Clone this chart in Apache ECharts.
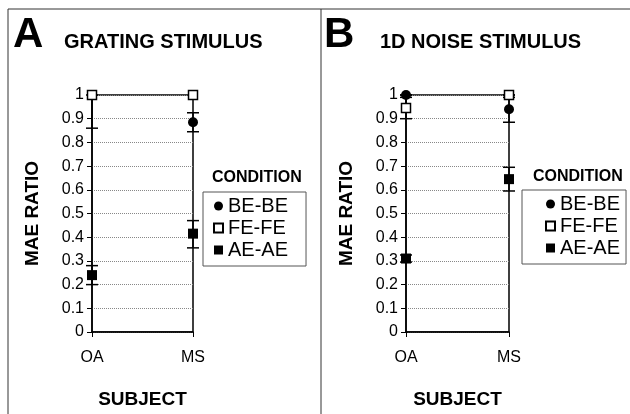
<!DOCTYPE html>
<html>
<head>
<meta charset="utf-8">
<script src="https://cdn.jsdelivr.net/npm/echarts@6/dist/echarts.min.js"></script>
<style>
  html, body { margin: 0; padding: 0; background: #fff; }
  #chart { width: 630px; height: 414px; }
</style>
</head>
<body>
<div id="chart"></div>
<script>
const subjects = ['OA', 'MS']
const conditions = ['BE-BE', 'FE-FE', 'AE-AE']
const yTicks = [0, 0.1, 0.2, 0.3, 0.4, 0.5, 0.6, 0.7, 0.8, 0.9, 1]

// panel A: grating stimulus
const gratingBE = [1, 0.885]
const gratingFE = [1, 1]
const gratingAE = [0.24, 0.415]
const gratingBELow = [0.86, 0.845]
const gratingBEHigh = [1, 0.925]
const gratingAELow = [0.2, 0.355]
const gratingAEHigh = [0.28, 0.47]

// panel B: 1D noise stimulus
const noiseBE = [1, 0.94]
const noiseFE = [0.945, 1]
const noiseAE = [0.31, 0.645]
const noiseFELow = [0.9, 1]
const noiseFEHigh = [0.99, 1]
const noiseBELow = [1, 0.885]
const noiseBEHigh = [1, 0.99]
const noiseAELow = [0.295, 0.595]
const noiseAEHigh = [0.325, 0.695]

const font = 'Liberation Sans, Arial, sans-serif'

const chart = echarts.init(document.getElementById('chart'))

function errData (low, high) {
  return subjects.map((s, i) => [i, low[i], high[i]])
}

function errSeries (name, idx, low, high) {
  return {
    name: name,
    type: 'custom',
    xAxisIndex: idx,
    yAxisIndex: idx,
    z: 3,
    silent: true,
    data: errData(low, high),
    renderItem: function (params, api) {
      const lo = api.coord([api.value(0), api.value(1)])
      const hi = api.coord([api.value(0), api.value(2)])
      const w = 6
      const st = { stroke: '#000', lineWidth: 1.5 }
      return {
        type: 'group',
        children: [
          { type: 'line', shape: { x1: lo[0], y1: lo[1], x2: hi[0], y2: hi[1] }, style: st },
          { type: 'line', shape: { x1: lo[0] - w, y1: lo[1], x2: lo[0] + w, y2: lo[1] }, style: st },
          { type: 'line', shape: { x1: hi[0] - w, y1: hi[1], x2: hi[0] + w, y2: hi[1] }, style: st }
        ]
      }
    }
  }
}

function pointSeries (name, idx, values) {
  const styles = {
    'BE-BE': { symbol: 'circle', symbolSize: 10, itemStyle: { color: '#000', opacity: 1 }, z: 4 },
    'FE-FE': { symbol: 'rect', symbolSize: 9, itemStyle: { color: '#fff', borderColor: '#000', borderWidth: 1.5, opacity: 1 }, z: 5 },
    'AE-AE': { symbol: 'rect', symbolSize: 10, itemStyle: { color: '#000', opacity: 1 }, z: 6 }
  }
  return Object.assign({
    name: name,
    type: 'scatter',
    xAxisIndex: idx,
    yAxisIndex: idx,
    data: values.map((v, i) => [subjects[i], v])
  }, styles[name])
}

function xAxis (idx) {
  return {
    type: 'category',
    gridIndex: idx,
    data: subjects,
    boundaryGap: false,
    name: 'SUBJECT',
    nameLocation: 'middle',
    nameGap: 58,
    nameTextStyle: { fontFamily: font, fontSize: 19, fontWeight: 'bold', color: '#000' },
    axisLine: { lineStyle: { color: '#000', width: 1.5 } },
    axisTick: { show: true, length: 5, lineStyle: { color: '#000' } },
    axisLabel: { fontFamily: font, fontSize: 16, color: '#000', margin: 18 },
    splitLine: { show: false }
  }
}

function yAxis (idx) {
  return {
    type: 'value',
    gridIndex: idx,
    min: 0,
    max: 1,
    interval: 0.1,
    name: 'MAE RATIO',
    nameLocation: 'middle',
    nameGap: 50,
    nameTextStyle: { fontFamily: font, fontSize: 19, fontWeight: 'bold', color: '#000' },
    axisLine: { show: true, lineStyle: { color: '#000', width: 1.5 } },
    axisTick: { show: true, length: 5, lineStyle: { color: '#000' } },
    axisLabel: {
      fontFamily: font,
      fontSize: 16,
      color: '#000',
      margin: 8,
      formatter: v => {
        const t = yTicks.find(y => Math.abs(y - v) < 1e-6)
        return t === undefined ? '' : String(t)
      }
    },
    splitLine: { show: true, lineStyle: { color: '#888', type: 'dotted', width: 1 } }
  }
}

function legend (left, top, padLeft, padRight) {
  return {
    data: conditions,
    orient: 'vertical',
    left: left,
    top: top,
    padding: [4, padRight, 6, padLeft],
    itemGap: 2,
    itemWidth: 9,
    itemHeight: 9,
    borderColor: '#555',
    borderWidth: 1,
    selectedMode: false,
    textStyle: { fontFamily: font, fontSize: 20, color: '#000', lineHeight: 18 }
  }
}

const titleStyle = { fontFamily: font, fontSize: 20, fontWeight: 'bold', color: '#000' }
const letterStyle = { fontFamily: font, fontSize: 42, fontWeight: 'bold', color: '#000' }
const condStyle = { fontFamily: font, fontSize: 16, fontWeight: 'bold', color: '#000' }

const option = {
  animation: false,
  backgroundColor: '#fff',
  title: [
    { text: 'A', left: 13, top: 14, textStyle: letterStyle, padding: 0 },
    { text: 'GRATING STIMULUS', left: 64, top: 32, textStyle: titleStyle, padding: 0 },
    { text: 'B', left: 324, top: 14, textStyle: letterStyle, padding: 0 },
    { text: '1D NOISE STIMULUS', left: 380, top: 32, textStyle: titleStyle, padding: 0 },
    { text: 'CONDITION', left: 212, top: 170, textStyle: condStyle, padding: 0 },
    { text: 'CONDITION', left: 533, top: 169, textStyle: condStyle, padding: 0 }
  ],
  legend: [legend(203, 192, 10, 18), legend(522, 190, 23, 6)],
  grid: [
    { left: 92, top: 95, width: 101, height: 240, show: true, borderColor: '#000', borderWidth: 1.5, backgroundColor: 'transparent' },
    { left: 406, top: 95, width: 103, height: 240, show: true, borderColor: '#000', borderWidth: 1.5, backgroundColor: 'transparent' }
  ],
  xAxis: [xAxis(0), xAxis(1)],
  yAxis: [yAxis(0), yAxis(1)],
  graphic: [
    { type: 'line', shape: { x1: 8, y1: 9, x2: 630, y2: 9 }, style: { stroke: '#333', lineWidth: 1 } },
    { type: 'line', shape: { x1: 8, y1: 9, x2: 8, y2: 414 }, style: { stroke: '#333', lineWidth: 1 } },
    { type: 'line', shape: { x1: 321, y1: 9, x2: 321, y2: 414 }, style: { stroke: '#333', lineWidth: 1 } }
  ],
  series: [
    errSeries('errA-BE', 0, gratingBELow, gratingBEHigh),
    errSeries('errA-AE', 0, gratingAELow, gratingAEHigh),
    pointSeries('BE-BE', 0, gratingBE),
    pointSeries('FE-FE', 0, gratingFE),
    pointSeries('AE-AE', 0, gratingAE),
    errSeries('errB-FE', 1, noiseFELow, noiseFEHigh),
    errSeries('errB-BE', 1, noiseBELow, noiseBEHigh),
    errSeries('errB-AE', 1, noiseAELow, noiseAEHigh),
    pointSeries('BE-BE', 1, noiseBE),
    pointSeries('FE-FE', 1, noiseFE),
    pointSeries('AE-AE', 1, noiseAE)
  ]
}

chart.setOption(option)
window.addEventListener('resize', () => {
  chart.resize()
})
</script>
</body>
</html>
